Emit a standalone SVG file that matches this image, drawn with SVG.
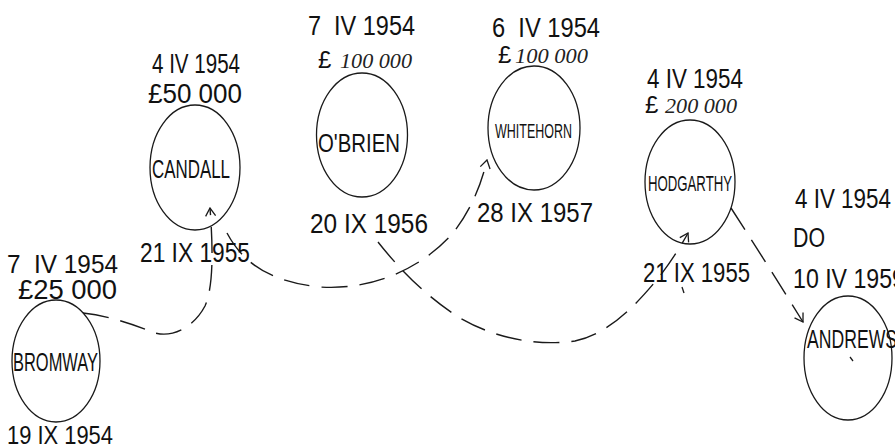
<svg xmlns="http://www.w3.org/2000/svg" width="895" height="448" viewBox="0 0 895 448">
  <defs>
    <style>
      .bg { fill: #ffffff; }
      .node { fill: none; stroke: #1a1a1a; stroke-width: 1.3; }
      .hand { font-family: "Liberation Sans", "DejaVu Sans", sans-serif; fill: #111111; }
      .date { font-size: 27px; }
      .name { font-size: 25px; }
      .amt { font-family: "Liberation Serif", "DejaVu Serif", serif; font-style: italic; font-size: 22px; fill: #222222; }
      .link { fill: none; stroke: #1a1a1a; stroke-width: 1.4; stroke-dasharray: 26 12; }
      .tick { fill: none; stroke: #1a1a1a; stroke-width: 1.3; }
    </style>
    <marker id="arrow" viewBox="0 0 12 12" refX="11" refY="6" markerWidth="12" markerHeight="12" markerUnits="userSpaceOnUse" orient="auto">
      <path d="M3,1 L11,6 L3,11" fill="none" stroke="#1a1a1a" stroke-width="1.3"/>
    </marker>
  </defs>

  <rect class="bg" x="0" y="0" width="895" height="448"/>

  <!-- transfer routes -->
  <g id="connectors">
    <path class="link" d="M83,313 C110,316 135,325 155,333 C175,338 195,325 205,306 C212,290 214,260 210,208" marker-end="url(#arrow)"/>
    <path class="link" d="M227,233 C243,263 270,282 320,287 C380,291 428,262 453,233 C468,214 480,190 487,160" marker-end="url(#arrow)"/>
    <path class="link" d="M378,242 C400,270 428,298 460,318 C498,340 540,346 575,341 C612,333 640,300 660,276 C672,260 681,246 688,233" marker-end="url(#arrow)"/>
    <path class="link" d="M731,208 C755,245 780,285 803,322" marker-end="url(#arrow)"/>
    <!-- stray pen marks -->
    <path class="tick" d="M682,287 L684,293"/>
    <path class="tick" d="M850,357 L853,361"/>
  </g>

  <g id="bromway">
    <text class="hand" x="7" y="273" font-size="25" textLength="111" lengthAdjust="spacingAndGlyphs" xml:space="preserve">7  IV 1954</text>
    <text class="hand date" x="18" y="299" textLength="99" lengthAdjust="spacingAndGlyphs">£25 000</text>
    <ellipse class="node" cx="56" cy="361" rx="44" ry="61"/>
    <text class="hand name" x="13" y="371" textLength="85" lengthAdjust="spacingAndGlyphs">BROMWAY</text>
    <text class="hand" x="7" y="444" font-size="25" textLength="106" lengthAdjust="spacingAndGlyphs">19 IX 1954</text>
  </g>

  <g id="candall">
    <text class="hand date" x="152" y="73" textLength="88" lengthAdjust="spacingAndGlyphs">4 IV 1954</text>
    <text class="hand date" x="148" y="103" textLength="94" lengthAdjust="spacingAndGlyphs">£50 000</text>
    <ellipse class="node" cx="195" cy="167.5" rx="45" ry="62.5"/>
    <text class="hand name" x="152" y="178" textLength="78" lengthAdjust="spacingAndGlyphs">CANDALL</text>
    <text class="hand date" x="140" y="262" textLength="110" lengthAdjust="spacingAndGlyphs">21 IX 1955</text>
  </g>

  <g id="obrien">
    <text class="hand date" x="308" y="35" textLength="107" lengthAdjust="spacingAndGlyphs" font-size="29" xml:space="preserve">7  IV 1954</text>
    <text class="hand" x="318" y="68" font-size="24">£</text>
    <text class="amt" x="340" y="68" textLength="72" lengthAdjust="spacingAndGlyphs">100 000</text>
    <ellipse class="node" cx="362" cy="135" rx="45.5" ry="62"/>
    <text class="hand name" x="318" y="152" textLength="82" lengthAdjust="spacingAndGlyphs" font-size="27">O'BRIEN</text>
    <text class="hand date" x="310" y="233" textLength="118" lengthAdjust="spacingAndGlyphs" font-size="28">20 IX 1956</text>
  </g>

  <g id="whitehorn">
    <text class="hand date" x="492" y="37" textLength="108" lengthAdjust="spacingAndGlyphs" font-size="29" xml:space="preserve">6  IV 1954</text>
    <text class="hand" x="498" y="63" font-size="24">£</text>
    <text class="amt" x="515" y="63" textLength="73" lengthAdjust="spacingAndGlyphs">100 000</text>
    <ellipse class="node" cx="534" cy="128" rx="46" ry="62"/>
    <text class="hand" x="495" y="138" textLength="77" lengthAdjust="spacingAndGlyphs" font-size="20">WHITEHORN</text>
    <text class="hand date" x="477" y="222" textLength="116" lengthAdjust="spacingAndGlyphs" font-size="29">28 IX 1957</text>
  </g>

  <g id="hodgarthy">
    <text class="hand date" x="647" y="88" textLength="96" lengthAdjust="spacingAndGlyphs" font-size="28">4 IV 1954</text>
    <text class="hand" x="645" y="113" font-size="24">£</text>
    <text class="amt" x="665" y="113" textLength="72" lengthAdjust="spacingAndGlyphs">200 000</text>
    <ellipse class="node" cx="690" cy="182" rx="45" ry="62"/>
    <text class="hand" x="648" y="191" textLength="84" lengthAdjust="spacingAndGlyphs" font-size="22">HODGARTHY</text>
    <text class="hand date" x="643" y="282" textLength="107" lengthAdjust="spacingAndGlyphs" font-size="29">21 IX 1955</text>
  </g>

  <g id="andrews">
    <text class="hand date" x="795" y="208" textLength="96" lengthAdjust="spacingAndGlyphs" font-size="28">4 IV 1954</text>
    <text class="hand date" x="793" y="247" textLength="32" lengthAdjust="spacingAndGlyphs">DO</text>
    <text class="hand date" x="793" y="288" textLength="112" lengthAdjust="spacingAndGlyphs" font-size="28">10 IV 1959</text>
    <ellipse class="node" cx="848" cy="358" rx="44" ry="62"/>
    <text class="hand name" x="807" y="348" textLength="90" lengthAdjust="spacingAndGlyphs">ANDREWS</text>
  </g>
</svg>
